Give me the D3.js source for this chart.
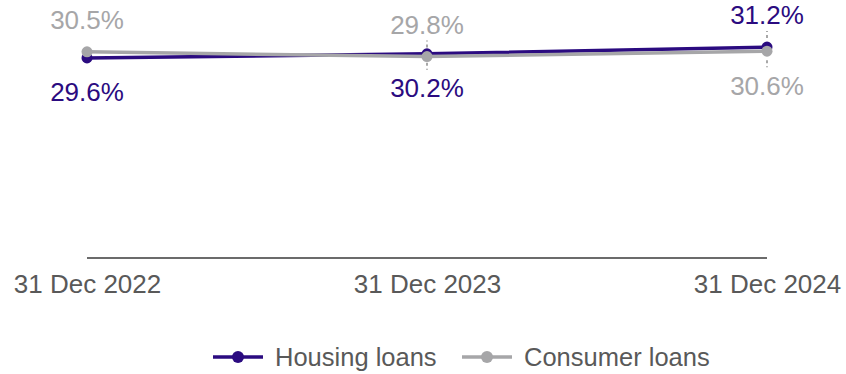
<!DOCTYPE html>
<html>
<head>
<meta charset="utf-8">
<script src="https://cdn.jsdelivr.net/npm/d3@7"></script>
<style>
  html, body { margin: 0; padding: 0; background: #fff; }
  svg { display: block; font-family: "Liberation Sans", Arial, sans-serif; }
</style>
</head>
<body>
<svg id="chart" width="846" height="374"></svg>
<script>
// Share of loans, end-of-year values (%)
const categories = ["31 Dec 2022", "31 Dec 2023", "31 Dec 2024"];
const housingLoans = [29.6, 30.2, 31.2];
const consumerLoans = [30.5, 29.8, 30.6];
const seriesNames = ["Housing loans", "Consumer loans"];
// label placement per point: "above" or "below"
const housingLabelPos = ["below", "below", "above"];
const consumerLabelPos = ["above", "above", "below"];

const colors = { housing: "#2b0b80", consumer: "#a6a6a8" };

const svg = d3.select("#chart");

const x = d3.scalePoint().domain(categories).range([87, 767]);
const y = d3.scaleLinear().domain([0, 35]).range([258, 21.4]);

// x axis
const xAxis = d3.axisBottom(x).tickSize(0).tickPadding(0);
const gx = svg.append("g").attr("transform", "translate(0,258)").call(xAxis);
gx.select(".domain").attr("stroke", "#6b6b6b").attr("stroke-width", 2)
  .attr("d", `M${x(categories[0])},0H${x(categories[2])}`);
gx.selectAll("text")
  .attr("font-size", 26)
  .attr("fill", "#595959")
  .attr("y", 35)
  .attr("dy", 0)
  .attr("font-family", "'Liberation Sans', Arial, sans-serif");

const series = [
  { name: seriesNames[0], values: housingLoans, pos: housingLabelPos, color: colors.housing },
  { name: seriesNames[1], values: consumerLoans, pos: consumerLabelPos, color: colors.consumer }
];

const line = d3.line().x((d, i) => x(categories[i])).y(d => y(d));

// leader ticks between labels and points
series.forEach(s => {
  s.values.forEach((v, i) => {
    if (i === 0) return;
    const cx = x(categories[i]), cy = y(v);
    const dir = s.pos[i] === "above" ? -1 : 1;
    svg.append("line")
      .attr("x1", cx).attr("x2", cx)
      .attr("y1", cy + dir * 9).attr("y2", cy + dir * 16)
      .attr("stroke", "#6e6e6e").attr("stroke-width", 1.2)
      .attr("stroke-dasharray", "3,3");
  });
});

series.forEach(s => {
  const g = svg.append("g");
  g.append("path")
    .datum(s.values)
    .attr("d", line)
    .attr("fill", "none")
    .attr("stroke", s.color)
    .attr("stroke-width", 3.5);
  g.selectAll("circle")
    .data(s.values)
    .join("circle")
    .attr("cx", (d, i) => x(categories[i]))
    .attr("cy", d => y(d))
    .attr("r", 5.5)
    .attr("fill", s.color);
});

// value labels
series.forEach(s => {
  svg.append("g").selectAll("text")
    .data(s.values)
    .join("text")
    .attr("x", (d, i) => x(categories[i]))
    .attr("y", (d, i) => s.pos[i] === "above" ? y(d) - 23 : y(d) + 43.5)
    .attr("text-anchor", "middle")
    .attr("font-size", 26)
    .attr("fill", s.color)
    .text(d => d.toFixed(1) + "%");
});

// legend
const legend = svg.append("g").attr("transform", "translate(0,357)");
const legendItems = [
  { name: seriesNames[0], color: colors.housing, x0: 213 },
  { name: seriesNames[1], color: colors.consumer, x0: 462 }
];
legendItems.forEach(it => {
  legend.append("line")
    .attr("x1", it.x0).attr("x2", it.x0 + 50)
    .attr("y1", 0).attr("y2", 0)
    .attr("stroke", it.color).attr("stroke-width", 3.5);
  legend.append("circle")
    .attr("cx", it.x0 + 25).attr("cy", 0).attr("r", 6)
    .attr("fill", it.color);
  legend.append("text")
    .attr("x", it.x0 + 62).attr("y", 0).attr("dy", "0.36em")
    .attr("font-size", 25.5)
    .attr("fill", "#595959")
    .text(it.name);
});
</script>
</body>
</html>
